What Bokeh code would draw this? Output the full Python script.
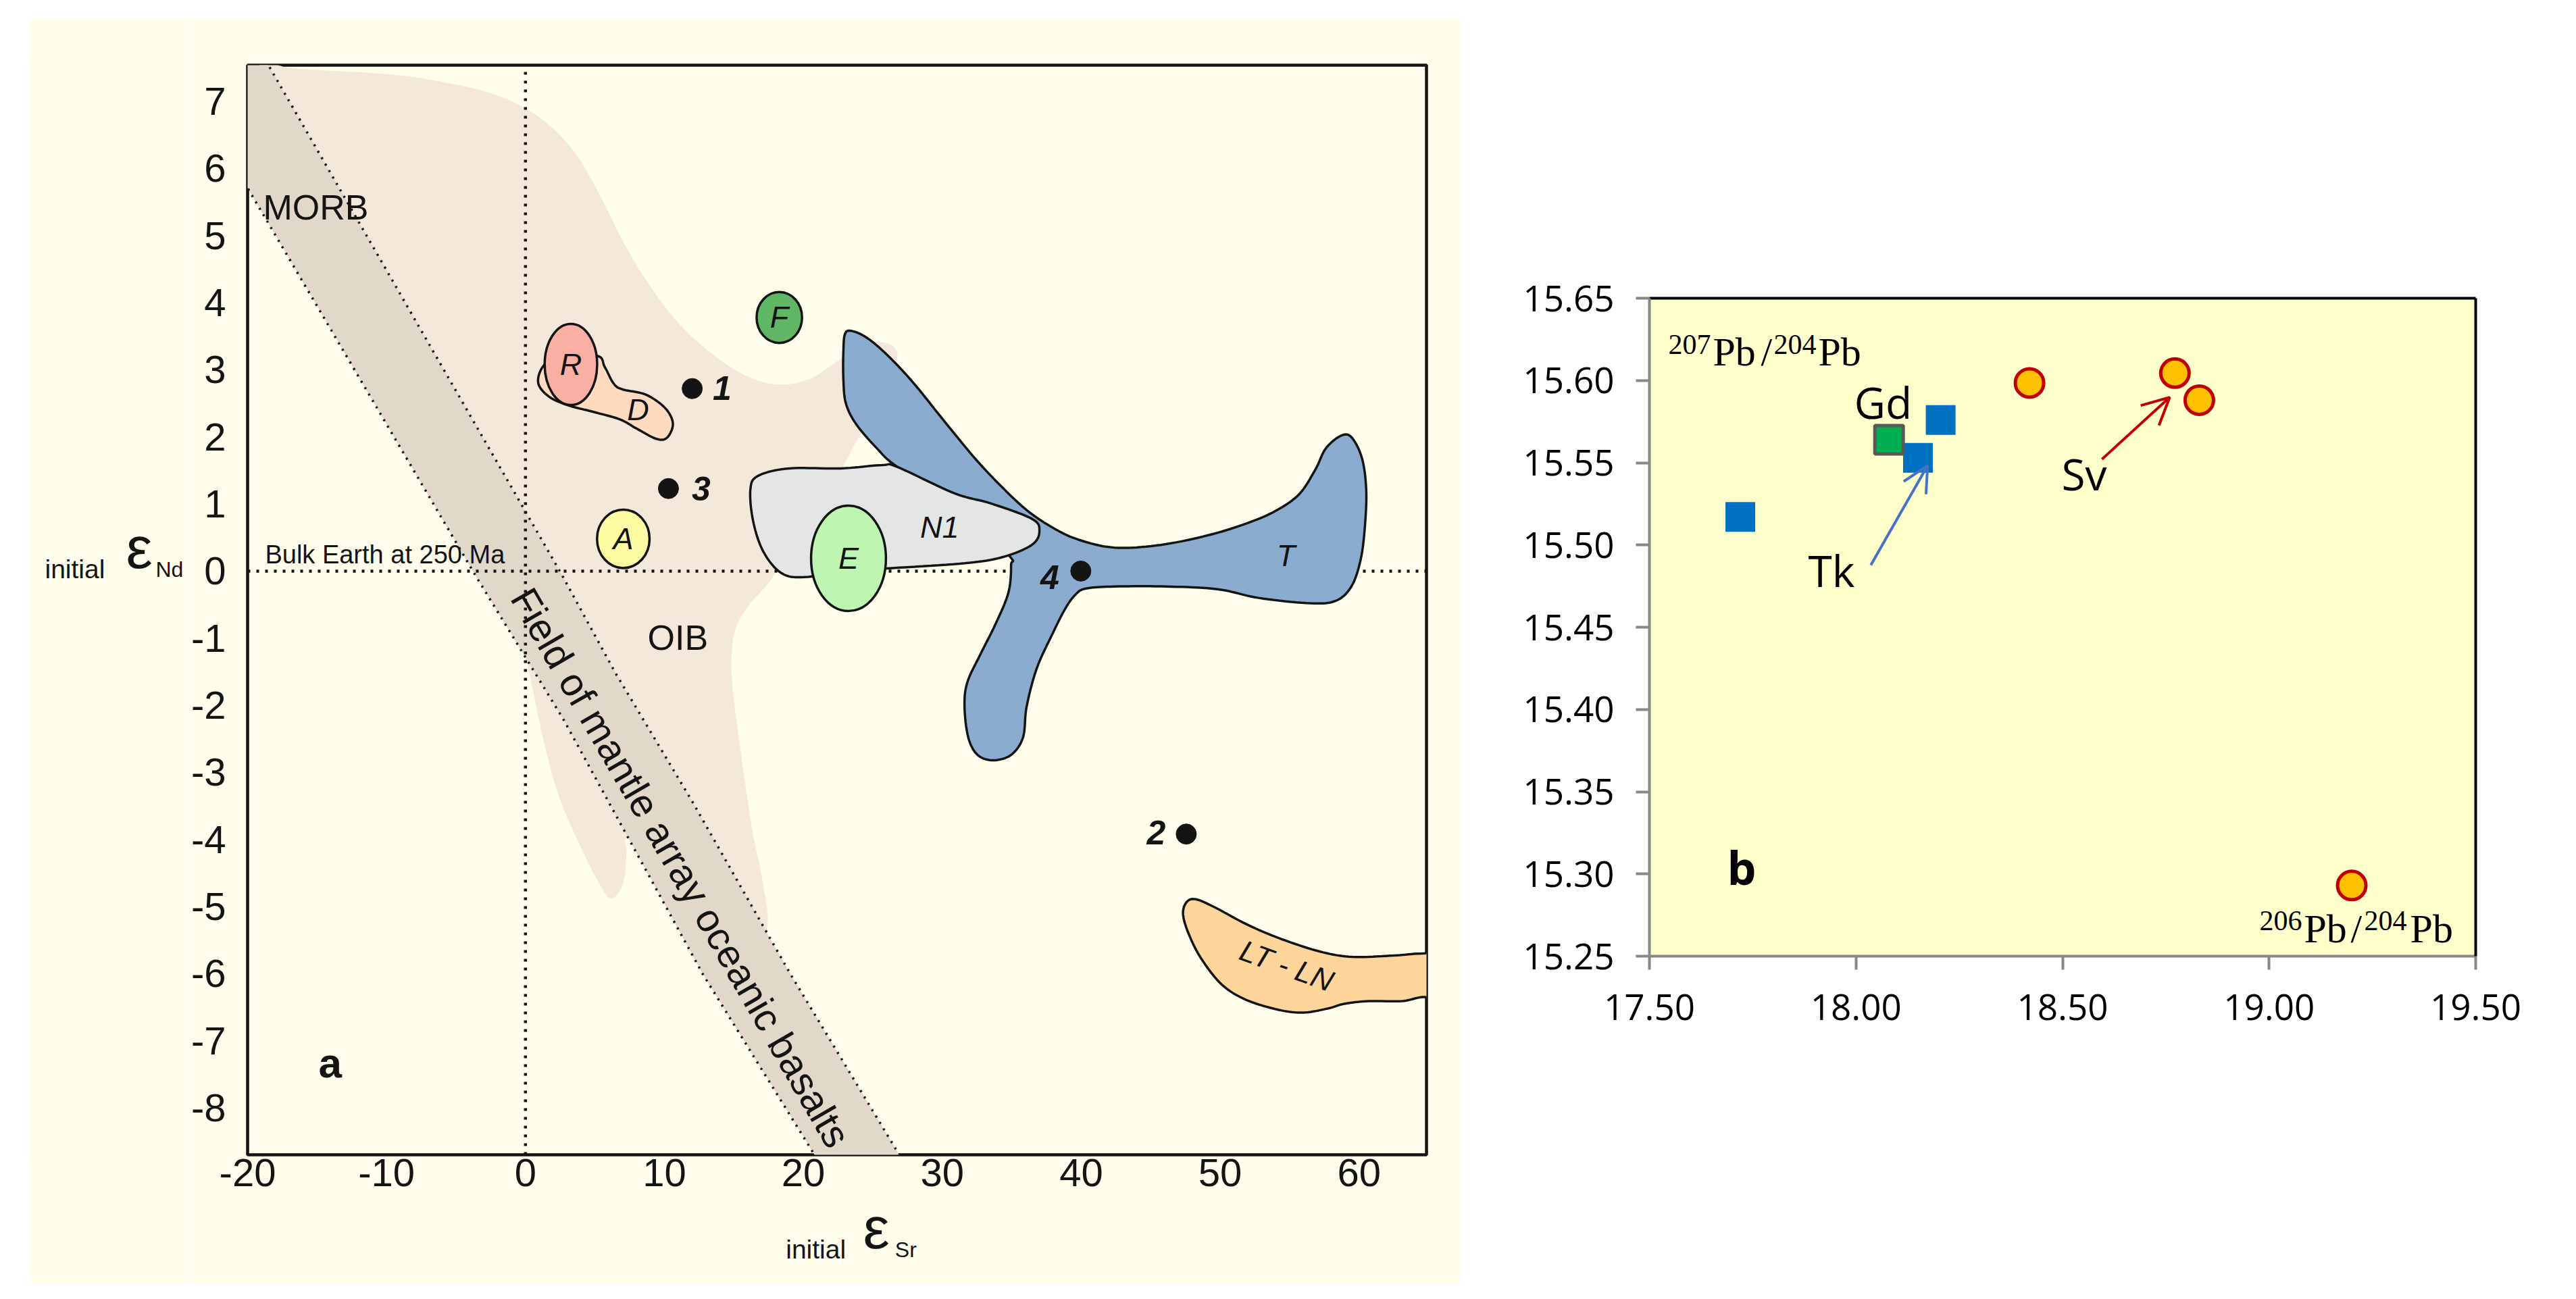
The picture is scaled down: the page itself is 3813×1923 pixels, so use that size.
import numpy as np
from bokeh.plotting import figure
from bokeh.models import (Label, Arrow, OpenHead, FixedTicker, NumeralTickFormatter,
                          LinearAxis, Spacer, Range1d)
from bokeh.layouts import row, column
from bokeh.embed import file_html
from bokeh.resources import INLINE

# ======================= Panel a data (initial eSr vs initial eNd) =======================
a_x_ticks = [-20, -10, 0, 10, 20, 30, 40, 50, 60]
a_y_ticks = [-8, -7, -6, -5, -4, -3, -2, -1, 0, 1, 2, 3, 4, 5, 6, 7]
a_x_range = (-20, 64.85)
a_y_range = (-8.7, 7.54)

bulk_earth_nd = 0.0
bulk_earth_sr = 0.0

# mantle array band boundaries
band_left_x = [-20.5, -20.0, -3.5, 2.73, 12.77, 20.8, 21.7]
band_left_y = [5.89, 5.71, -0.1, -2.21, -6.01, -8.7, -9.0]
band_right_x = [-19.2, -18.5, 2.55, 6.45, 12.02, 19.08, 26.9, 27.77]
band_right_y = [7.8, 7.54, -0.03, -1.51, -3.44, -6.01, -8.7, -9.0]

# OIB field outline
oib_pts = [(-19.5, 7.7), (-17.35, 7.51), (-9.6, 7.40), (-4.97, 7.25), (-1.87, 7.08), (0.60, 6.82),
           (2.46, 6.50), (4.01, 6.10), (5.56, 5.52), (7.11, 4.88), (8.96, 4.25), (11.13, 3.67),
           (13.61, 3.21), (16.08, 2.89), (18.25, 2.78), (20.42, 2.86), (22.59, 3.15), (24.2, 3.38),
           (25.29, 3.42), (26.4, 3.36), (26.78, 3.2), (26.4, 2.91), (25.3, 2.40), (23.98, 1.99),
           (22.7, 1.52), (19.7, 0.70), (17.86, -0.07), (16.0, -0.53), (15.08, -0.89), (14.82, -1.35),
           (14.97, -1.86), (15.45, -2.63), (16.3, -3.83), (17.04, -4.59), (17.41, -5.29), (16.0, -5.3),
           (9.0, -4.3), (7.28, -3.98), (7.28, -4.21), (7.0, -4.67), (6.17, -4.88), (5.34, -4.67),
           (3.85, -4.06), (2.36, -3.33), (1.25, -2.48), (0.14, -1.40), (-0.6, -0.95), (-2.0, 0.5),
           (-10.0, 3.8)]

# T field
t_pts = [(23.44, 3.58), (24.55, 3.48), (26.04, 3.22), (27.9, 2.81), (30.12, 2.24), (32.35, 1.68),
         (34.21, 1.27), (36.07, 0.91), (37.92, 0.65), (39.78, 0.47), (42.38, 0.35), (45.72, 0.39),
         (49.44, 0.55), (52.41, 0.75), (54.27, 0.93), (55.75, 1.16), (56.87, 1.52), (57.61, 1.83),
         (58.72, 2.02), (59.47, 1.99), (60.21, 1.68), (60.51, 1.22), (60.43, 0.70), (60.13, 0.19),
         (59.47, -0.22), (58.35, -0.44), (56.49, -0.48), (52.77, -0.40), (49.8, -0.27), (46.09, -0.23),
         (42.38, -0.23), (40.34, -0.26), (39.59, -0.35), (38.85, -0.56), (37.92, -0.94), (36.8, -1.45),
         (36.07, -2.02), (35.81, -2.48), (34.95, -2.74), (33.65, -2.82), (32.54, -2.74), (31.87, -2.48),
         (31.6, -2.02), (31.8, -1.66), (32.72, -1.25), (33.83, -0.79), (34.76, -0.32), (34.95, 0.09),
         (34.76, 0.24), (31.24, 0.96), (26.78, 1.55), (25.29, 1.83), (23.8, 2.19), (23.06, 2.50),
         (22.88, 2.86), (22.88, 3.27), (22.99, 3.53)]

# N1 field
n1_pts = [(16.19, 1.22), (16.75, 1.42), (18.98, 1.53), (22.69, 1.53), (25.66, 1.58), (26.78, 1.55),
          (30.86, 1.16), (33.47, 1.01), (36.44, 0.78), (36.99, 0.60), (36.44, 0.39), (34.2, 0.20),
          (31.24, 0.11), (26.0, 0.04), (23.44, 0.01), (20.1, -0.09), (18.42, -0.03), (17.12, 0.29),
          (16.38, 0.75)]

# D field
d_pts = [(0.92, 2.80), (1.23, 3.04), (2.15, 3.15), (5.09, 3.21), (5.71, 3.04), (6.33, 2.80),
         (6.95, 2.71), (8.66, 2.63), (10.05, 2.43), (10.61, 2.20), (10.2, 1.99), (9.43, 1.97),
         (8.03, 2.12), (6.80, 2.26), (4.94, 2.37), (3.08, 2.47), (1.69, 2.60)]

# LT-LN field
ltln_pts = [(47.33, -5.12), (47.56, -4.94), (48.2, -4.89), (49.5, -5.0), (51.86, -5.26), (54.22, -5.47),
            (57.16, -5.67), (59.51, -5.75), (62.46, -5.73), (64.52, -5.70), (66.5, -5.72), (66.5, -6.33),
            (64.52, -6.35), (63.06, -6.41), (60.70, -6.41), (58.93, -6.45), (57.75, -6.52), (55.98, -6.58),
            (54.22, -6.54), (51.86, -6.39), (50.1, -6.16), (48.62, -5.77), (47.74, -5.41)]

# elliptical fields
ell_names = ["R", "F", "A", "E"]
ell_sr = [3.27, 18.27, 7.04, 23.25]
ell_nd = [3.08, 3.78, 0.48, 0.19]
ell_w = [3.78, 3.27, 3.78, 5.39]
ell_h = [1.21, 0.76, 0.87, 1.57]

# samples
sample_ids = ["1", "2", "3", "4"]
sample_sr = [12.0, 47.56, 10.29, 39.97]
sample_nd = [2.72, -3.92, 1.23, 0.0]

# ======================= Panel b data (206Pb/204Pb vs 207Pb/204Pb) =======================
b_x_ticks = [17.5, 18.0, 18.5, 19.0, 19.5]
b_y_ticks = [15.25, 15.30, 15.35, 15.40, 15.45, 15.50, 15.55, 15.60, 15.65]
tk_206 = [17.72, 18.15, 18.205]
tk_207 = [15.517, 15.553, 15.576]
gd_206 = [18.08]
gd_207 = [15.564]
sv_206 = [18.42, 18.772, 18.831, 19.20]
sv_207 = [15.5985, 15.6045, 15.588, 15.293]


def smooth_closed(pts, n=10):
    P = np.array(pts, dtype=float)
    m = len(P)
    out = []
    for i in range(m):
        p0, p1, p2, p3 = P[i - 1], P[i], P[(i + 1) % m], P[(i + 2) % m]
        for t in np.linspace(0, 1, n, endpoint=False):
            t2, t3 = t * t, t * t * t
            out.append(0.5 * (2 * p1 + (-p0 + p2) * t + (2 * p0 - 5 * p1 + 4 * p2 - p3) * t2
                              + (-p0 + 3 * p1 - 3 * p2 + p3) * t3))
    out = np.array(out)
    return list(out[:, 0]), list(out[:, 1])


CREAM = "#FFFDEB"
INK = "#141414"
SANS = "Liberation Sans"
SERIF = "Liberation Serif"
MID_K = {SANS: 0.33, SERIF: 0.32, "Open Sans": 0.37}

FW1, FH1 = 1745, 1613          # frame of panel a
P1_BOTTOM = 190                # panel a bottom border (tick labels + x title area)
YLAB_W = 232                   # strip left of panel a for its y title
EPS_SIZE = 88


def lab(p, text, x, y, size, ppy, font=SANS, style="normal", align="left", baseline="alphabetic",
        angle=0.0, color=INK):
    if baseline == "alphabetic":
        y = y + MID_K[font] * size / ppy
        baseline = "middle"
    p.add_layout(Label(x=x, y=y, text=text, text_font=font, text_font_size=f"{size}px",
                       text_font_style=style, text_align=align, text_baseline=baseline,
                       angle=angle, angle_units="deg", text_color=color))


# ------------------------------- Panel a -------------------------------
p1 = figure(frame_width=FW1, frame_height=FH1, x_range=Range1d(*a_x_range), y_range=Range1d(*a_y_range),
            output_backend="svg", toolbar_location=None, title=None,
            min_border_left=90, min_border_right=51, min_border_top=69, min_border_bottom=P1_BOTTOM,
            background_fill_color=CREAM, border_fill_color=CREAM,
            outline_line_color=INK, outline_line_width=4.5)
P1_PPY = FH1 / (a_y_range[1] - a_y_range[0])
p1.grid.visible = False
for ax in (p1.xaxis[0], p1.yaxis[0]):
    ax.axis_line_color = None
    ax.major_tick_line_color = None
    ax.minor_tick_line_color = None
    ax.major_tick_out = 0
    ax.major_tick_in = 0
    ax.major_label_text_font = SANS
    ax.major_label_text_font_size = "58px"
    ax.major_label_text_color = INK
p1.xaxis.ticker = FixedTicker(ticks=a_x_ticks)
p1.yaxis.ticker = FixedTicker(ticks=a_y_ticks)
p1.xaxis.major_label_overrides = {t: str(t) for t in a_x_ticks}
p1.yaxis.major_label_overrides = {t: str(t) for t in a_y_ticks}
p1.xaxis.major_label_standoff = 6
p1.yaxis.major_label_standoff = 32

# OIB field
ox, oy = smooth_closed(oib_pts)
p1.patch(ox, oy, fill_color="#F4E8DA", line_color=None)

# mantle array band
bx = band_right_x + band_left_x[::-1]
by = band_right_y + band_left_y[::-1]
p1.patch(bx + [-20.5], by + [7.8], fill_color="#E1D8CA", line_color=None)
p1.line(band_left_x, band_left_y, line_color=INK, line_width=3.5, line_dash="3 8")
p1.line(band_right_x, band_right_y, line_color=INK, line_width=3.5, line_dash="3 8")

# bulk earth reference lines
p1.line([a_x_range[0], a_x_range[1]], [bulk_earth_nd, bulk_earth_nd], line_color=INK, line_width=4.5,
        line_dash="4 9")
p1.line([bulk_earth_sr, bulk_earth_sr], [a_y_range[0], a_y_range[1]], line_color=INK, line_width=4.5,
        line_dash="4 9")

# D and R, F, A
dx, dy = smooth_closed(d_pts)
p1.patch(dx, dy, fill_color="#FDDAC0", line_color=INK, line_width=3.5)
ell_fill = ["#F9AFA4", "#5FB664", "#FEFCA2", "#BFF5B2"]
for i in range(3):
    p1.ellipse(x=[ell_sr[i]], y=[ell_nd[i]], width=[ell_w[i]], height=[ell_h[i]],
               fill_color=ell_fill[i], line_color=INK, line_width=3.5)

# T, N1, E
tx, ty = smooth_closed(t_pts)
p1.patch(tx, ty, fill_color="#8BACCF", line_color=INK, line_width=3.5)
nx, ny = smooth_closed(n1_pts)
p1.patch(nx, ny, fill_color="#E3E6E5", line_color=INK, line_width=3.5)
p1.ellipse(x=[ell_sr[3]], y=[ell_nd[3]], width=[ell_w[3]], height=[ell_h[3]],
           fill_color=ell_fill[3], line_color=INK, line_width=3.5)

# LT-LN
lx, ly = smooth_closed(ltln_pts)
p1.patch(lx, ly, fill_color="#FDD59A", line_color=INK, line_width=3.5)

# samples
p1.scatter(sample_sr, sample_nd, size=30, fill_color=INK, line_color=INK)

# field labels
for name, xx, yy in zip(ell_names, ell_sr, ell_nd):
    lab(p1, name, xx, yy, 45, P1_PPY, style="italic", align="center", baseline="middle")
lab(p1, "D", 8.1, 2.41, 45, P1_PPY, style="italic", align="center", baseline="middle")
lab(p1, "N1", 29.8, 0.65, 45, P1_PPY, style="italic", align="center", baseline="middle")
lab(p1, "T", 54.73, 0.23, 45, P1_PPY, style="italic", align="center", baseline="middle")
lab(p1, "LT - LN", 54.8, -5.88, 44, P1_PPY, style="italic", align="center", baseline="middle", angle=-20)

# sample number labels
lab(p1, "1", 14.15, 2.73, 50, P1_PPY, style="bold italic", align="center", baseline="middle")
lab(p1, "3", 12.65, 1.23, 50, P1_PPY, style="bold italic", align="center", baseline="middle")
lab(p1, "4", 37.74, -0.09, 50, P1_PPY, style="bold italic", align="center", baseline="middle")
lab(p1, "2", 45.39, -3.90, 50, P1_PPY, style="bold italic", align="center", baseline="middle")

lab(p1, "MORB", -18.88, 5.25, 52, P1_PPY)
lab(p1, "Bulk Earth at 250 Ma", -18.74, 0.12, 38, P1_PPY)
lab(p1, "OIB", 8.79, -1.17, 52, P1_PPY)
lab(p1, "Field of mantle array oceanic basalts", -0.3, -0.3, 58, P1_PPY, baseline="middle", angle=-60)
lab(p1, "a", -14.9, -7.54, 62, P1_PPY, style="bold")

# strip holding the y title of panel a (same vertical geometry as panel a)
yfig = figure(frame_width=YLAB_W, frame_height=FH1, x_range=Range1d(0, YLAB_W), y_range=Range1d(*a_y_range),
              x_axis_type=None, y_axis_type=None, output_backend="svg", toolbar_location=None, title=None,
              min_border_left=0, min_border_right=0, min_border_top=69, min_border_bottom=P1_BOTTOM,
              background_fill_color=CREAM, border_fill_color=CREAM, outline_line_color=None)
lab(yfig, "initial", 22, -0.10, 39, P1_PPY)
lab(yfig, "\u03b5", 142, 0.055, EPS_SIZE, P1_PPY)
lab(yfig, "Nd", 186, -0.08, 32, P1_PPY)

# transparent strip holding the x title of panel a; pulled up over panel a's bottom border
xfig = figure(frame_width=FW1, frame_height=P1_BOTTOM, x_range=Range1d(*a_x_range), y_range=Range1d(0, P1_BOTTOM),
              x_axis_type=None, y_axis_type=None, output_backend="svg", toolbar_location=None, title=None,
              min_border_left=90, min_border_right=51, min_border_top=0, min_border_bottom=0,
              background_fill_alpha=0, border_fill_alpha=0, outline_line_color=None,
              margin=(-P1_BOTTOM, 0, 0, 0))
lab(xfig, "initial", 18.74, 37, 39, 1.0)
lab(xfig, "\u03b5", 24.3, 53, EPS_SIZE, 1.0)
lab(xfig, "Sr", 26.6, 39, 32, 1.0)

# ------------------------------- Panel b -------------------------------
p2 = figure(frame_width=1223, frame_height=974, x_range=Range1d(17.5, 19.5), y_range=Range1d(15.25, 15.65),
            output_backend="svg", toolbar_location=None, title=None,
            min_border_left=279, min_border_right=128, min_border_top=69, min_border_bottom=484,
            background_fill_color="#FFFFCC", border_fill_color="white", outline_line_color=None)
P2_PPY = 974 / 0.4
p2.grid.visible = False
GRAY = "#878787"
for ax in (p2.xaxis[0], p2.yaxis[0]):
    ax.axis_line_color = GRAY
    ax.axis_line_width = 4
    ax.major_tick_line_color = GRAY
    ax.major_tick_line_width = 4
    ax.major_tick_out = 20
    ax.major_tick_in = 0
    ax.minor_tick_line_color = None
    ax.major_label_text_font = "Open Sans"
    ax.major_label_text_font_size = "53px"
    ax.major_label_text_color = "black"
    ax.formatter = NumeralTickFormatter(format="0.00")
p2.xaxis.ticker = FixedTicker(ticks=b_x_ticks)
p2.yaxis.ticker = FixedTicker(ticks=b_y_ticks)
p2.xaxis.major_label_standoff = 36
p2.yaxis.major_label_standoff = 32
for loc in ("above", "right"):
    p2.add_layout(LinearAxis(ticker=FixedTicker(ticks=[]), axis_line_color="black", axis_line_width=4,
                             major_tick_line_color=None, minor_tick_line_color=None,
                             major_label_text_font_size="0px"), loc)

p2.scatter(tk_206, tk_207, marker="square", size=44, fill_color="#0070C0", line_color=None)
p2.scatter(gd_206, gd_207, marker="square", size=42, fill_color="#00B050", line_color="#595959",
           line_width=5)
p2.scatter(sv_206, sv_207, marker="circle", size=42, fill_color="#FFC000", line_color="#C00000",
           line_width=5)

p2.add_layout(Arrow(end=OpenHead(size=38, line_color="#4472C4", line_width=4),
                    x_start=18.036, y_start=15.4878, x_end=18.1733, y_end=15.5483,
                    line_color="#4472C4", line_width=4))
p2.add_layout(Arrow(end=OpenHead(size=40, line_color="#C00000", line_width=4),
                    x_start=18.5953, y_start=15.5521, x_end=18.7595, y_end=15.5898,
                    line_color="#C00000", line_width=4))

# 207Pb/204Pb (top-left)
lab(p2, "207", 17.5458, 15.6163, 42, P2_PPY, font=SERIF, color="black")
lab(p2, "Pb", 17.6537, 15.6093, 60, P2_PPY, font=SERIF, color="black")
lab(p2, "/", 17.7698, 15.6093, 60, P2_PPY, font=SERIF, color="black")
lab(p2, "204", 17.8009, 15.6163, 42, P2_PPY, font=SERIF, color="black")
lab(p2, "Pb", 17.9088, 15.6093, 60, P2_PPY, font=SERIF, color="black")
# 206Pb/204Pb (bottom-right)
lab(p2, "206", 18.9767, 15.266, 42, P2_PPY, font=SERIF, color="black")
lab(p2, "Pb", 19.0846, 15.2586, 60, P2_PPY, font=SERIF, color="black")
lab(p2, "/", 19.1975, 15.2586, 60, P2_PPY, font=SERIF, color="black")
lab(p2, "204", 19.2302, 15.266, 42, P2_PPY, font=SERIF, color="black")
lab(p2, "Pb", 19.3414, 15.2586, 60, P2_PPY, font=SERIF, color="black")

lab(p2, "Gd", 17.9955, 15.5769, 64, P2_PPY, font="Open Sans", color="black")
lab(p2, "Tk", 17.8843, 15.4746, 64, P2_PPY, font="Open Sans", color="black")
lab(p2, "Sv", 18.4975, 15.5334, 64, P2_PPY, font="Open Sans", color="black")
lab(p2, "b", 17.6881, 15.2939, 68, P2_PPY, font="Open Sans", style="bold", color="black")

left_block = row(column(yfig), column(p1, xfig))
right_col = column(Spacer(width=10, height=345), p2)
layout = column(Spacer(width=10, height=27),
                row(Spacer(width=44, height=10), left_block, right_col))

open("out.html", "w").write(file_html(layout, INLINE))
